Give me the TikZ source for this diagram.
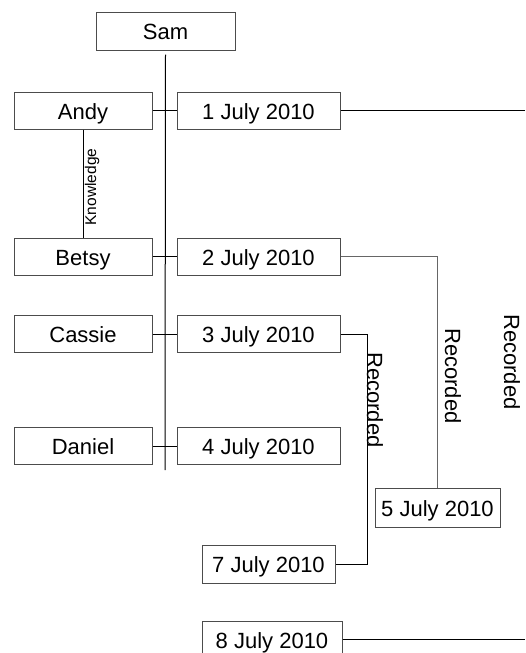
\documentclass[tikz,border=0pt]{standalone}
\usepackage{fontspec}
\setmainfont{Liberation Sans}
\usepackage{xcolor}

\tikzset{
    box/.style={draw=black!70, line width=1pt, minimum height=37pt, inner sep=0pt,
        text height=17pt, text depth=0pt, font=\fontsize{22}{26}\selectfont},
    who/.style={box, minimum width=138pt},
    day/.style={box, minimum width=163pt},
    lbl/.style={inner sep=1pt, font=\fontsize{22}{26}\selectfont},
    link/.style={line width=1pt},
}

\begin{document}
\begin{tikzpicture}[x=1pt, y=-1pt]
    \useasboundingbox (0,0) rectangle (525,653);

    \node[box, minimum width=139pt, minimum height=38pt] (sam) at (165.5,31) {Sam};

    \node[who] (andy) at (83,110.5) {Andy};
    \node[who] (betsy) at (83,256.5) {Betsy};
    \node[who] (cassie) at (83,334) {Cassie};
    \node[who] (daniel) at (83,446) {Daniel};

    \node[day] (jul1) at (258.5,110.5) {1 July 2010};
    \node[day] (jul2) at (258.5,256.5) {2 July 2010};
    \node[day] (jul3) at (258.5,334) {3 July 2010};
    \node[day] (jul4) at (258.5,446) {4 July 2010};
    \node[box, minimum width=125pt, minimum height=39pt] (jul5) at (437.5,507.5) {5 July 2010};
    \node[box, minimum width=133pt, minimum height=38pt] (jul7) at (268.5,564) {7 July 2010};
    \node[box, minimum width=140pt] (jul8) at (272,639.5) {8 July 2010};

    \coordinate (spine) at (165,470);
    \coordinate (rim1) at (525,110.5);
    \coordinate (rim8) at (525,639.5);

    \draw[link] ([yshift=-4pt]sam.south) -- (spine);

    \draw[link] (andy) -- (jul1);
    \draw[link] (betsy) -- (jul2);
    \draw[link] (cassie) -- (jul3);
    \draw[link] (daniel) -- (jul4);

    \draw[link] (andy) -- (betsy);
    \node[inner sep=1pt, font=\fontsize{15.5}{18}\selectfont, rotate=90] (know) at (92,187) {Knowledge};

    \draw[link] (jul1) -- (rim1);
    \draw[link] (jul8) -- (rim8);
    \draw[link, black!60] (jul2.east) -| (jul5.north);
    \draw[link] (jul3.east) -- ++(27,0) |- (jul7.east);

    \node[lbl, rotate=-90] (rec3) at (375,400) {Recorded};
    \node[lbl, rotate=-90] (rec2) at (453,376) {Recorded};
    \node[lbl, rotate=-90] (rec1) at (512,362) {Recorded};
\end{tikzpicture}
\end{document}
